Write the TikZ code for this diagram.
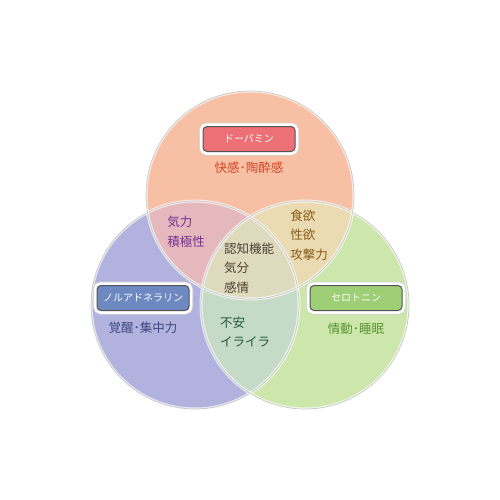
\documentclass[tikz,border=0pt]{standalone}
\usepackage{fontspec}
\setmainfont{Noto Sans CJK JP}
\usepackage{tikz}
\usetikzlibrary{positioning}

\definecolor{dopafill}{RGB}{247,191,163}
\definecolor{norafill}{RGB}{177,179,222}
\definecolor{serofill}{RGB}{205,230,172}
\definecolor{dnfill}{RGB}{228,184,188}
\definecolor{dsfill}{RGB}{234,219,178}
\definecolor{nsfill}{RGB}{198,218,200}
\definecolor{allfill}{RGB}{222,218,190}
\definecolor{dopabox}{RGB}{236,112,118}
\definecolor{norabox}{RGB}{110,136,194}
\definecolor{serobox}{RGB}{158,206,118}
\definecolor{dopatext}{RGB}{210,70,40}
\definecolor{noratext}{RGB}{62,72,128}
\definecolor{serotext}{RGB}{88,150,48}
\definecolor{kiryoku}{RGB}{120,50,150}
\definecolor{shokuyoku}{RGB}{138,92,24}
\definecolor{ninchi}{RGB}{80,66,50}
\definecolor{fuan}{RGB}{30,90,60}

\begin{document}
\begin{tikzpicture}[x=1pt, y=-1pt]
        \tikzset{set/.style={circle, inner sep=0pt, minimum size=208pt},
                 ring/.style={circle, inner sep=0pt, minimum size=208pt, draw=gray!45, line width=0.7pt,
                              preaction={draw=white, draw opacity=0.7, line width=3pt}},
                 namebox/.style={rectangle, rounded corners=4pt, draw=gray!65!black, line width=1pt,
                                 minimum width=92pt, minimum height=25pt, text=white, font=\fontsize{10}{12}\selectfont,
                                 preaction={draw=gray!35, line width=8pt}, preaction={draw=white, line width=6.5pt}},
                 effect/.style={font=\fontsize{12.5}{19.5}\selectfont, align=left}}
        \useasboundingbox (0,0) rectangle (500,500);
        % circles
        \node[set, fill=norafill] (nora) at (195,305) {};
        \node[set, fill=serofill] (sero) at (305,305) {};
        \node[set, fill=dopafill] (dopa) at (250,195) {};
        % overlaps
        \begin{scope}
            \clip (dopa.center) circle (104);
            \fill[dnfill] (nora.center) circle (104);
            \fill[dsfill] (sero.center) circle (104);
            \clip (nora.center) circle (104);
            \fill[allfill] (sero.center) circle (104);
        \end{scope}
        \begin{scope}
            \clip (nora.center) circle (104);
            \clip (sero.center) circle (104);
            \fill[nsfill, even odd rule] (sero.center) circle (104) (dopa.center) circle (104);
        \end{scope}
        \node[ring] at (nora) {};
        \node[ring] at (sero) {};
        \node[ring] at (dopa) {};
        % names
        \node[namebox, fill=dopabox] (dopaname) at (249,139) {ドーパミン};
        \node[namebox, fill=norabox] (noraname) at (143,298) {ノルアドネラリン};
        \node[namebox, fill=serobox] (seroname) at (356,298) {セロトニン};
        \node[effect, text=dopatext, below=6pt of dopaname] (dopaeff) {快感･陶酔感};
        \node[effect, text=noratext, below=7pt of noraname] (noraeff) {覚醒･集中力};
        \node[effect, text=serotext, below=8pt of seroname] (seroeff) {情動･睡眠};
        \node[effect, text=kiryoku] (dn) at (186,232) {気力\\積極性};
        \node[effect, text=shokuyoku] (ds) at (309,235) {食欲\\性欲\\攻撃力};
        \node[effect, text=ninchi] (all) at (249,268) {認知機能\\気分\\感情};
        \node[effect, text=fuan] (ns) at (245,332) {不安\\イライラ};
\end{tikzpicture}
\end{document}
